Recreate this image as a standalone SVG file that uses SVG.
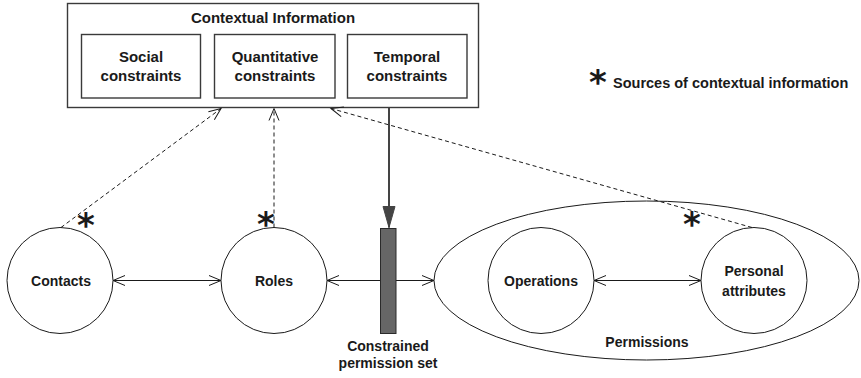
<svg xmlns="http://www.w3.org/2000/svg" width="861" height="378" viewBox="0 0 861 378">
<defs>
<style>
.t{font-family:"Liberation Sans",Arial,sans-serif;font-weight:bold;fill:#1a1a1a;text-anchor:middle}
.box{fill:#fff;stroke:#3a3a3a;stroke-width:1.4}
.circ{fill:#fff;stroke:#1a1a1a;stroke-width:1}
.ln{fill:none;stroke:#1a1a1a;stroke-width:1}
.dash{fill:none;stroke:#1a1a1a;stroke-width:1;stroke-dasharray:4 3}
.ast{font-family:"DejaVu Sans",sans-serif;font-weight:bold;fill:#1a1a1a;text-anchor:middle;font-size:34px}
</style>
<marker id="open" markerUnits="userSpaceOnUse" markerWidth="16" markerHeight="14" viewBox="-13 -7 16 14" refX="0" refY="0" orient="auto-start-reverse">
<path d="M-12,-5 L0,0 L-12,5" fill="none" stroke="#1a1a1a" stroke-width="1"/>
</marker>
<marker id="solid" markerUnits="userSpaceOnUse" markerWidth="23" markerHeight="14" viewBox="-22 -7 23 14" refX="0" refY="0" orient="auto">
<path d="M-21,-6 L0,0 L-21,6 Z" fill="#444" stroke="#444" stroke-width="1"/>
</marker>
</defs>
<rect width="861" height="378" fill="#fff"/>

<g id="contextual-information">
<rect class="box" x="67.5" y="3.5" width="411" height="104"/>
<text class="t" x="273" y="23" font-size="15">Contextual Information</text>
</g>
<g id="social-constraints">
<rect class="box" x="81.5" y="34.5" width="119" height="63.5"/>
<text class="t" x="141" y="62" font-size="15">Social</text>
<text class="t" x="141" y="81" font-size="15">constraints</text>
</g>
<g id="quantitative-constraints">
<rect class="box" x="214.5" y="34.5" width="120.5" height="63.5"/>
<text class="t" x="275" y="62" font-size="15">Quantitative</text>
<text class="t" x="275" y="81" font-size="15">constraints</text>
</g>
<g id="temporal-constraints">
<rect class="box" x="347.5" y="34.5" width="119.5" height="63.5"/>
<text class="t" x="407" y="62" font-size="15">Temporal</text>
<text class="t" x="407" y="81" font-size="15">constraints</text>
</g>

<g id="legend">
<text class="ast" x="598" y="94">*</text>
<text class="t" x="613" y="88" font-size="14.5" style="text-anchor:start">Sources of contextual information</text>
</g>

<g id="permissions">
<ellipse class="circ" cx="646.5" cy="280.5" rx="212.5" ry="79.5"/>
<text class="t" x="647" y="347" font-size="14">Permissions</text>
</g>
<g id="contacts">
<circle class="circ" cx="60" cy="280.5" r="53"/>
<text class="t" x="61" y="286" font-size="14">Contacts</text>
</g>
<g id="roles">
<circle class="circ" cx="274" cy="280.5" r="53"/>
<text class="t" x="274" y="286" font-size="14">Roles</text>
</g>
<g id="operations">
<circle class="circ" cx="541" cy="280.5" r="53"/>
<text class="t" x="541" y="286" font-size="14">Operations</text>
</g>
<g id="personal-attributes">
<circle class="circ" cx="754" cy="280.5" r="53"/>
<text class="t" x="754" y="276" font-size="14">Personal</text>
<text class="t" x="754" y="296" font-size="14">attributes</text>
</g>

<g id="connectors">
<line class="ln" x1="113" y1="280.5" x2="221" y2="280.5" marker-start="url(#open)" marker-end="url(#open)"/>
<line class="ln" x1="327" y1="280.5" x2="434" y2="280.5" marker-start="url(#open)" marker-end="url(#open)"/>
<line class="ln" x1="594" y1="280.5" x2="701" y2="280.5" marker-start="url(#open)" marker-end="url(#open)"/>
<line class="dash" x1="61" y1="227.5" x2="221" y2="108.5" marker-end="url(#open)"/>
<line class="dash" x1="274" y1="227.5" x2="274" y2="108.5" marker-end="url(#open)"/>
<line class="dash" x1="752" y1="227.5" x2="331" y2="108.5" marker-end="url(#open)"/>
<line x1="389" y1="107.5" x2="389" y2="227.5" stroke="#444" stroke-width="2" marker-end="url(#solid)"/>
</g>

<g id="constrained-permission-set">
<rect x="380.5" y="228.5" width="15.5" height="105" fill="#666" stroke="#2a2a2a" stroke-width="1"/>
<text class="t" x="388" y="351" font-size="14">Constrained</text>
<text class="t" x="388" y="368" font-size="14">permission set</text>
</g>

<g id="source-markers">
<text class="ast" x="86" y="237">*</text>
<text class="ast" x="266" y="236">*</text>
<text class="ast" x="692" y="236">*</text>
</g>
</svg>
